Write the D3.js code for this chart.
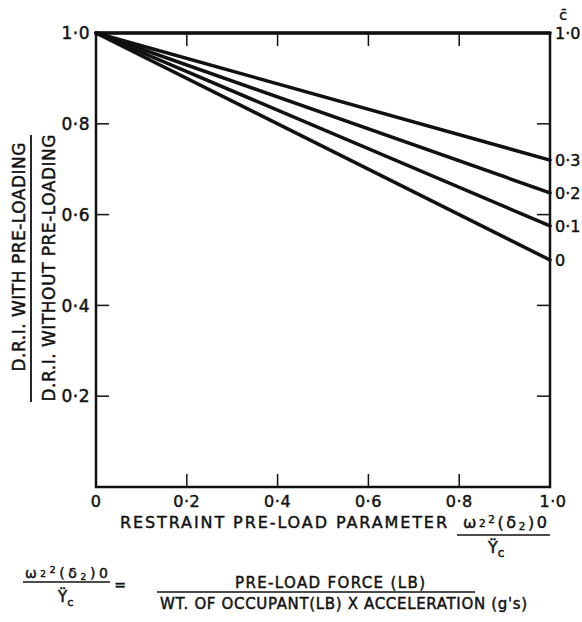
<!DOCTYPE html>
<html>
<head>
<meta charset="utf-8">
<script src="https://cdn.jsdelivr.net/npm/d3@7"></script>
<style>
  body { margin: 0; background: #fff; }
  text { font-family: "DejaVu Sans", sans-serif; fill: #111; stroke: #111; stroke-width: 0.45px; }
</style>
</head>
<body>
<div id="chart"></div>
<script>
// values
var xTicks = [0, 0.2, 0.4, 0.6, 0.8, 1.0];
var yTicks = [0.2, 0.4, 0.6, 0.8, 1.0];
var cbarLabels = ["1·0", "0·3", "0·2", "0·1", "0"];
var startRatio = [1.0, 1.0, 1.0, 1.0, 1.0];   // at x = 0
var endRatio = [1.0, 0.72, 0.648, 0.575, 0.5]; // at x = 1.0

function fmt(d) {
  return d === 0 ? "0" : d.toFixed(1).replace(".", "·");
}

var svgWidth = 582, svgHeight = 622;
var margin = { top: 33, left: 96 };
var width = 454, height = 454;

var svg = d3.select("#chart")
  .append("svg")
  .attr("width", svgWidth)
  .attr("height", svgHeight);

var chartGroup = svg.append("g")
  .attr("transform", `translate(${margin.left}, ${margin.top})`);

var x = d3.scaleLinear().domain([0, 1]).range([0, width]);
var y = d3.scaleLinear().domain([0, 1]).range([height, 0]);

/********************************************************/
// inward ticks on all four sides
var tickLen = 13;
chartGroup.selectAll(".xtickB")
  .data(xTicks.slice(1, -1))
  .enter().append("line")
  .attr("x1", d => x(d)).attr("x2", d => x(d))
  .attr("y1", height).attr("y2", height - tickLen)
  .attr("stroke", "#111").attr("stroke-width", 1.5);

chartGroup.selectAll(".xtickT")
  .data(xTicks.slice(1, -1))
  .enter().append("line")
  .attr("x1", d => x(d)).attr("x2", d => x(d))
  .attr("y1", 0).attr("y2", tickLen)
  .attr("stroke", "#111").attr("stroke-width", 1.5);

chartGroup.selectAll(".ytickL")
  .data(yTicks.slice(0, -1))
  .enter().append("line")
  .attr("x1", 0).attr("x2", tickLen)
  .attr("y1", d => y(d)).attr("y2", d => y(d))
  .attr("stroke", "#111").attr("stroke-width", 1.5);

chartGroup.selectAll(".ytickR")
  .data(yTicks.slice(0, -1))
  .enter().append("line")
  .attr("x1", width).attr("x2", width - tickLen)
  .attr("y1", d => y(d)).attr("y2", d => y(d))
  .attr("stroke", "#111").attr("stroke-width", 1.5);

// frame
chartGroup.append("rect")
  .attr("x", 0).attr("y", 0)
  .attr("width", width).attr("height", height)
  .attr("fill", "none")
  .attr("stroke", "#111")
  .attr("stroke-width", 2.5);

// curves
var line = d3.line().x(d => x(d[0])).y(d => y(d[1]));
chartGroup.selectAll(".curve")
  .data(endRatio.map((e, i) => [[0, startRatio[i]], [1, e]]))
  .enter().append("path")
  .attr("d", line)
  .attr("fill", "none")
  .attr("stroke", "#111")
  .attr("stroke-width", 3.5)
  .attr("stroke-linecap", "round");

// tick labels
chartGroup.selectAll(".xlab")
  .data(xTicks)
  .enter().append("text")
  .attr("x", d => x(d) + (d === 1 ? 3 : 0))
  .attr("y", height + 20)
  .attr("text-anchor", "middle")
  .attr("font-size", "16px")
  .attr("letter-spacing", "0.5px")
  .text(fmt);

chartGroup.selectAll(".ylab")
  .data(yTicks)
  .enter().append("text")
  .attr("x", -6)
  .attr("y", d => y(d))
  .attr("dy", "0.36em")
  .attr("text-anchor", "end")
  .attr("font-size", "17px")
  .attr("letter-spacing", "0.5px")
  .text(fmt);

// c-bar labels at the right end of each line
chartGroup.selectAll(".clab")
  .data(endRatio)
  .enter().append("text")
  .attr("x", width + 5)
  .attr("y", d => y(d))
  .attr("dy", "0.36em")
  .attr("font-size", "16px")
  .text((d, i) => cbarLabels[i]);

chartGroup.append("text")
  .attr("x", width + 13)
  .attr("y", -13)
  .attr("text-anchor", "middle")
  .attr("font-size", "14px")
  .text("c̄");

/********************************************************/
// y axis title as a fraction
svg.append("text")
  .attr("transform", "translate(25, 257) rotate(-90)")
  .attr("text-anchor", "middle")
  .attr("font-size", "17px")
  .attr("textLength", 229)
  .attr("lengthAdjust", "spacing")
  .text("D.R.I. WITH PRE-LOADING");

svg.append("line")
  .attr("x1", 31).attr("x2", 31)
  .attr("y1", 135).attr("y2", 402)
  .attr("stroke", "#111").attr("stroke-width", 1.8);

svg.append("text")
  .attr("transform", "translate(55, 268) rotate(-90)")
  .attr("text-anchor", "middle")
  .attr("font-size", "17px")
  .attr("textLength", 267)
  .attr("lengthAdjust", "spacing")
  .text("D.R.I. WITHOUT PRE-LOADING");

// x axis title
svg.append("text")
  .attr("x", 120)
  .attr("y", 528)
  .attr("font-size", "16px")
  .attr("textLength", 327)
  .attr("lengthAdjust", "spacing")
  .text("RESTRAINT PRE-LOAD PARAMETER");

function formulaTop(g, xPos, yPos, size, len) {
  var t = g.append("text")
    .attr("x", xPos).attr("y", yPos)
    .attr("font-size", size + "px")
    .attr("textLength", len)
    .attr("lengthAdjust", "spacing");
  t.append("tspan").text("ω");
  t.append("tspan").attr("font-size", (size * 0.65) + "px").attr("dy", -1).text("2");
  t.append("tspan").attr("font-size", (size * 0.65) + "px").attr("dy", -4).text("2");
  t.append("tspan").attr("dy", 5).text("(δ");
  t.append("tspan").attr("font-size", (size * 0.65) + "px").attr("dy", 2).text("2");
  t.append("tspan").attr("dy", -2).text(")0");
  return t;
}

function formulaBottom(g, xPos, yPos, size) {
  var t = g.append("text")
    .attr("x", xPos).attr("y", yPos)
    .attr("font-size", size + "px");
  t.append("tspan").text("Ÿ");
  t.append("tspan").attr("font-size", (size * 0.75) + "px").attr("dy", 4).text("c");
  return t;
}

formulaTop(svg, 463, 528, 16, 84);
svg.append("line")
  .attr("x1", 457).attr("x2", 550)
  .attr("y1", 535).attr("y2", 535)
  .attr("stroke", "#111").attr("stroke-width", 1.5);
formulaBottom(svg, 488, 553, 16);

/********************************************************/
// definition at the bottom
formulaTop(svg, 25, 578, 14, 83);
svg.append("line")
  .attr("x1", 23).attr("x2", 110)
  .attr("y1", 582).attr("y2", 582)
  .attr("stroke", "#111").attr("stroke-width", 1.5);
formulaBottom(svg, 58, 602, 15);

svg.append("text")
  .attr("x", 120).attr("y", 590)
  .attr("text-anchor", "middle")
  .attr("font-size", "14px")
  .text("=");

svg.append("text")
  .attr("x", 235).attr("y", 588)
  .attr("font-size", "15px")
  .attr("textLength", 190)
  .attr("lengthAdjust", "spacing")
  .text("PRE-LOAD FORCE (LB)");

svg.append("line")
  .attr("x1", 157).attr("x2", 475)
  .attr("y1", 592).attr("y2", 592)
  .attr("stroke", "#111").attr("stroke-width", 1.5);

svg.append("text")
  .attr("x", 160).attr("y", 609)
  .attr("font-size", "15px")
  .attr("textLength", 367)
  .attr("lengthAdjust", "spacing")
  .text("WT. OF OCCUPANT(LB) X ACCELERATION (g's)");
</script>
</body>
</html>
